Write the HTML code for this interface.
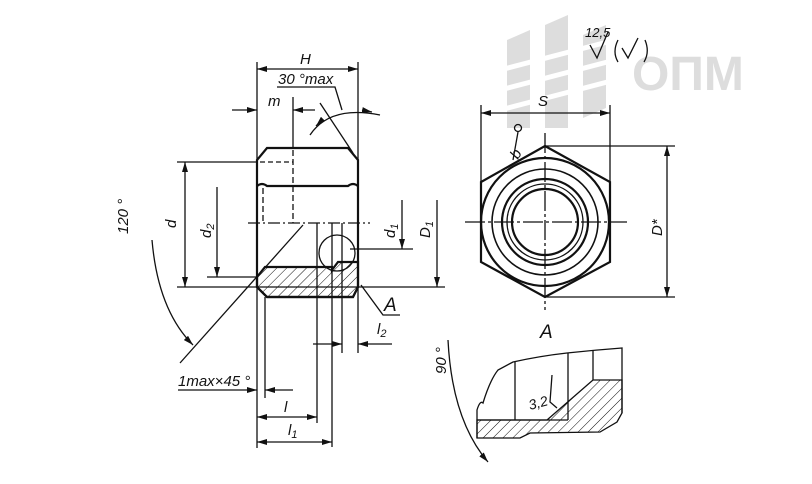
<!DOCTYPE html>
<html><head><meta charset="utf-8"><style>
html,body{margin:0;padding:0;background:#fff;}
svg{display:block}
text{font-family:"Liberation Sans",sans-serif;font-style:italic;fill:#111;}
</style></head><body>
<svg width="812" height="484" viewBox="0 0 812 484" xmlns="http://www.w3.org/2000/svg">
<defs>
<marker id="a" viewBox="0 0 10 6" refX="10" refY="3" markerWidth="10" markerHeight="6" orient="auto-start-reverse" markerUnits="userSpaceOnUse"><path d="M0,0 L10,3 L0,6 z" fill="#111"/></marker>
<pattern id="h" width="7" height="7" patternUnits="userSpaceOnUse" patternTransform="rotate(45)"><line x1="0" y1="0" x2="0" y2="7" stroke="#111" stroke-width="1"/></pattern>
</defs>
<g fill="#ddd">
<polygon points="507,40 530,30 530,128 507,128"/>
<polygon points="545,25 568,15 568,128 545,128"/>
<polygon points="583,35 606,25 606,108 583,118"/>
</g>
<g stroke="#fff" stroke-width="5">
<line x1="500" y1="70" x2="615" y2="40"/><line x1="500" y1="90" x2="615" y2="60"/><line x1="500" y1="110" x2="615" y2="80"/>
</g>
<text x="632" y="90" style="font-style:normal;font-weight:bold;font-size:48px;fill:#ddd">ОПМ</text>

<g stroke="#111" stroke-width="1.3" fill="none">
<line x1="257" y1="62" x2="257" y2="448"/>
<line x1="358" y1="62" x2="358" y2="353"/>
<line x1="257" y1="69" x2="358" y2="69" marker-start="url(#a)" marker-end="url(#a)"/>
<polyline points="277,87 335,87 342,110"/>
<line x1="232" y1="110" x2="257" y2="110" marker-end="url(#a)"/>
<line x1="315" y1="110" x2="293" y2="110" marker-end="url(#a)"/>
<line x1="293" y1="97" x2="293" y2="148"/>
<line x1="320" y1="103" x2="353" y2="153"/>
<path d="M310,135 Q330,105 380,115" />
<path d="M322,120 L316,126" marker-end="url(#a)"/>
<path d="M362,110 L372,112" marker-end="url(#a)"/>
<g stroke-width="2.2">
<path d="M267,148 L348,148 L358,160 L358,287 L353,297 L267,297 L257,287 L257,160 Z"/>
<path d="M257,186 Q262,182 267,186 L348,186 Q353,182 358,186"/>
</g>
<line x1="260" y1="162" x2="293" y2="162" stroke-dasharray="5,3"/>
<line x1="293" y1="150" x2="293" y2="223" stroke-dasharray="6,3"/>
<line x1="263" y1="188" x2="263" y2="223" stroke-dasharray="6,3"/>
<line x1="248" y1="223" x2="370" y2="223" stroke-dasharray="12,3,2,3"/>
<path d="M257,277 L265,267 L332,267 L332,270 L338,262 L358,262 L358,287 L353,297 L267,297 L257,287 Z" fill="url(#h)" stroke-width="2.2"/>
<circle cx="337" cy="253" r="18"/>
<line x1="317" y1="223" x2="317" y2="423"/>
<line x1="332" y1="223" x2="332" y2="447"/>
<line x1="342" y1="223" x2="342" y2="353"/>
<line x1="265" y1="297" x2="265" y2="398"/>
<line x1="177" y1="162" x2="257" y2="162"/>
<line x1="177" y1="287" x2="445" y2="287"/>
<line x1="185" y1="162" x2="185" y2="287" marker-start="url(#a)" marker-end="url(#a)"/>
<line x1="217" y1="187" x2="217" y2="277" marker-end="url(#a)"/>
<line x1="207" y1="277" x2="257" y2="277"/>
<line x1="402" y1="200" x2="402" y2="249" marker-end="url(#a)"/>
<line x1="350" y1="249" x2="413" y2="249"/>
<line x1="437" y1="200" x2="437" y2="287" marker-end="url(#a)"/>
<polyline points="361,285 383,315 400,315"/>
<line x1="313" y1="344" x2="342" y2="344" marker-end="url(#a)"/>
<line x1="392" y1="344" x2="358" y2="344" marker-end="url(#a)"/>
<line x1="178" y1="390" x2="257" y2="390" marker-end="url(#a)"/>
<line x1="293" y1="390" x2="265" y2="390" marker-end="url(#a)"/>
<line x1="257" y1="417" x2="317" y2="417" marker-start="url(#a)" marker-end="url(#a)"/>
<line x1="257" y1="442" x2="332" y2="442" marker-start="url(#a)" marker-end="url(#a)"/>
<line x1="303" y1="225" x2="180" y2="363"/>
<path d="M152,240 Q158,310 193,345" marker-end="url(#a)"/>
<line x1="481" y1="105" x2="481" y2="182"/>
<line x1="610" y1="105" x2="610" y2="182"/>
<line x1="481" y1="113" x2="610" y2="113" marker-start="url(#a)" marker-end="url(#a)"/>
<g stroke-width="2.2">
<polygon points="545,146 610,182 610,262 545,297 481,262 481,182"/>
<circle cx="545" cy="222" r="64"/>
<circle cx="545" cy="222" r="53" stroke-width="1.6"/>
<circle cx="545" cy="222" r="43"/>
<circle cx="545" cy="222" r="38" stroke-width="1.3"/>
<circle cx="545" cy="222" r="33"/>
</g>
<line x1="465" y1="222" x2="627" y2="222" stroke-dasharray="20,3,3,3"/>
<line x1="545" y1="133" x2="545" y2="310" stroke-dasharray="20,3,3,3"/>
<line x1="545" y1="146" x2="675" y2="146"/>
<line x1="545" y1="297" x2="675" y2="297"/>
<line x1="667" y1="146" x2="667" y2="297" marker-start="url(#a)" marker-end="url(#a)"/>
<circle cx="518" cy="128" r="3.5"/>
<line x1="518" y1="132" x2="513" y2="160"/>
<path d="M590,45 L597,58 L608,32"/>
<path d="M618,40 Q612,52 618,62 M622,48 L628,58 L638,38 M645,40 Q650,52 644,62"/>
<path d="M448,340 Q452,420 488,462" marker-end="url(#a)"/>
<path d="M547,420 L593,380 L622,380 L622,413 L617,422 L600,432 L530,433 L520,438 L477,438 L477,420 Z" fill="url(#h)"/>
<path d="M477,438 L477,410 Q480,400 483,403 Q490,380 498,370 L513,362 Q540,356 567,353 Q595,350 622,348 L622,413"/>
<line x1="477" y1="420" x2="568" y2="420"/>
<line x1="515" y1="362" x2="515" y2="420"/>
<line x1="568" y1="353" x2="568" y2="420"/>
<line x1="593" y1="350" x2="593" y2="380"/>
<polyline points="552,375 550,402 557,408"/>
</g>
<g font-size="15">
<text x="300" y="64">H</text>
<text x="278" y="84">30 °max</text>
<text x="268" y="106">m</text>
<text transform="translate(176,228) rotate(-90)">d</text>
<text transform="translate(211,238) rotate(-90)">d<tspan font-size="11" dy="3">2</tspan></text>
<text transform="translate(395,238) rotate(-90)">d<tspan font-size="11" dy="3">1</tspan></text>
<text transform="translate(430,238) rotate(-90)">D<tspan font-size="11" dy="3">1</tspan></text>
<text transform="translate(128,234) rotate(-90)">120 °</text>
<text x="384" y="311" font-size="19">A</text>
<text x="377" y="334">l<tspan font-size="11" dy="3">2</tspan></text>
<text x="178" y="386">1max×45 °</text>
<text x="284" y="412">l</text>
<text x="288" y="435">l<tspan font-size="11" dy="3">1</tspan></text>
<text x="538" y="106">S</text>
<text transform="translate(518,160) rotate(-60)">b</text>
<text transform="translate(662,236) rotate(-90)">D*</text>
<text x="540" y="338" font-size="19">A</text>
<text transform="translate(446,374) rotate(-90)">90 °</text>
<text x="585" y="37" font-size="13">12,5</text>
<text transform="translate(530,410) rotate(-15)" font-size="14">3,2</text>
</g>
</svg>
</body></html>
